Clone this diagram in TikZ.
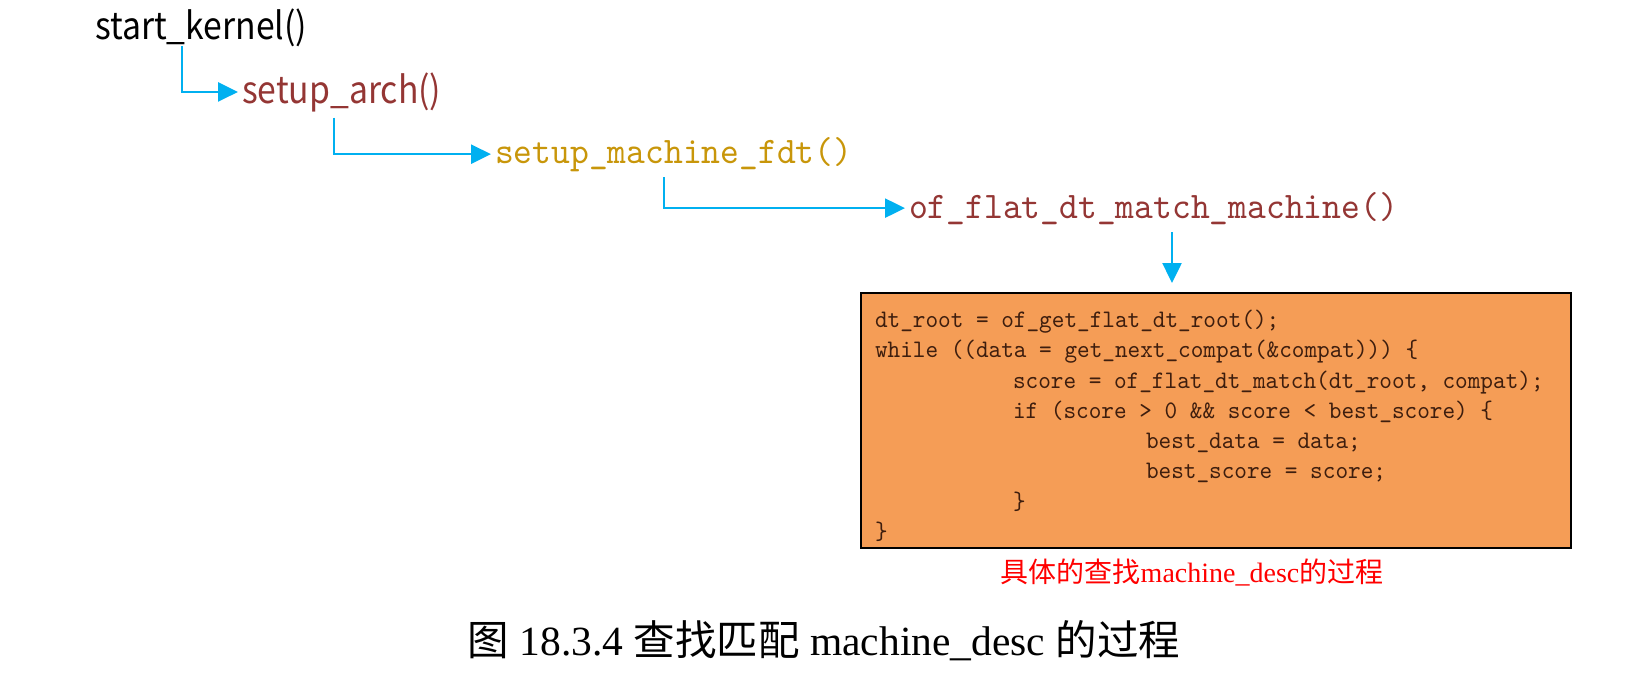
\documentclass[tikz,border=0pt]{standalone}
\usepackage{fontspec}
\setmainfont{Liberation Serif}
\newfontfamily\cjkfont{Noto Sans CJK SC}
\newfontfamily\fnfont[FakeStretch=0.9]{Noto Sans CJK SC}
\newfontfamily\codefont{lmmono10-regular.otf}[FakeStretch=0.955]
\usetikzlibrary{arrows.meta}

\definecolor{callblue}{HTML}{00B0F0}
\definecolor{fnred}{HTML}{943634}
\definecolor{fngold}{HTML}{C8960A}
\definecolor{boxorange}{HTML}{F59D56}
\definecolor{codebrown}{HTML}{3E1E0E}

\begin{document}
\begin{tikzpicture}[x=1pt, y=-1pt,
                    every node/.style={inner sep=0pt, outer sep=0pt},
                    sans fn/.style={anchor=base west, font=\fnfont\fontsize{37.5}{40}\selectfont},
                    mono fn/.style={anchor=base west, font=\codefont\fontsize{37.5}{40}\selectfont},
                    call/.style={draw=callblue, line width=2.5pt,
                                 -{Triangle[length=20pt,width=19pt]}, shorten >=4pt},
                    code box/.style={draw=black, line width=2.5pt, fill=boxorange,
                                     anchor=north west, minimum width=710pt, minimum height=255pt}]

  \useasboundingbox (0,0) rectangle (1627,697);

  % call chain
  \node[sans fn] (sk) at (95,39) {start\_kernel()};
  \node[sans fn, text=fnred] (sa) at (242,103) {setup\_arch()};
  \node[mono fn, text=fngold] (smf) at (495,163) {setup\_machine\_fdt()};
  \node[mono fn, text=fnred] (ofm) at (909,218) {of\_flat\_dt\_match\_machine()};

  % code of the match loop
  \node[code box] (box) at (861,293) {};
  \node[anchor=north west, align=left, text=codebrown,
        font=\codefont\fontsize{25.2}{30.3}\selectfont] (code) at (875,310) {%
    dt\_root = of\_get\_flat\_dt\_root();\\
    while ((data = get\_next\_compat(\&compat))) \{\\
    \hspace*{138pt}score = of\_flat\_dt\_match(dt\_root, compat);\\
    \hspace*{138pt}if (score > 0 \&\& score < best\_score) \{\\
    \hspace*{271pt}best\_data = data;\\
    \hspace*{271pt}best\_score = score;\\
    \hspace*{138pt}\}\\
    \}};

  \node[anchor=base, text=red, font=\fontsize{28}{30}\selectfont] (note) at (1192,582)
    {{\cjkfont 具体的查找}machine\_desc{\cjkfont 的过程}};
  \node[anchor=base, font=\fontsize{41.5}{44}\selectfont] (caption) at (824,655)
    {{\cjkfont 图} 18.3.4 {\cjkfont 查找匹配} machine\_desc {\cjkfont 的过程}};

  % connectors
  \coordinate (drop) at ([xshift=263pt,yshift=-8pt]ofm.south west);
  \draw[call] ([xshift=87pt]sk.south west) |- (sa.west);
  \draw[call] ([xshift=92pt,yshift=-6pt]sa.south west) |- (smf.west);
  \draw[call] ([xshift=169pt,yshift=-6pt]smf.south west) |- (ofm.west);
  \draw[call, shorten >=10pt] (drop) -- (drop |- box.north);
\end{tikzpicture}
\end{document}
